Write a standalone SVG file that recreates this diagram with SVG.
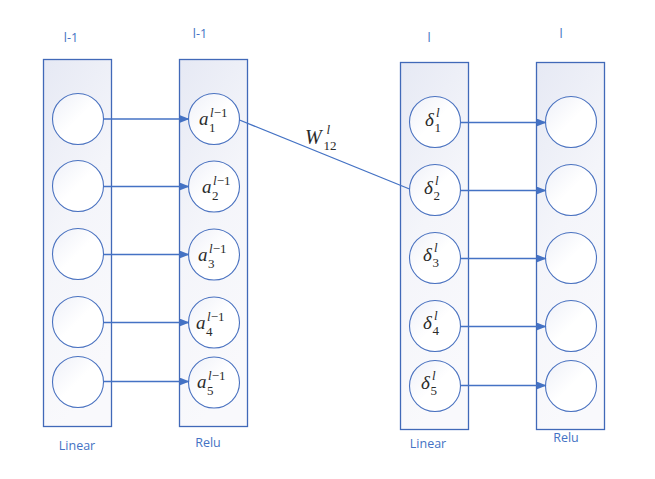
<svg xmlns="http://www.w3.org/2000/svg" width="655" height="479" viewBox="0 0 655 479">
<defs>
<linearGradient id="colg" x1="0" y1="0" x2="0.3" y2="1">
<stop offset="0" stop-color="#e6e9f4"/>
<stop offset="0.5" stop-color="#f4f5fa"/>
<stop offset="1" stop-color="#f9f9fc"/>
</linearGradient>
<linearGradient id="cirg" x1="0" y1="0" x2="1" y2="1">
<stop offset="0" stop-color="#eef0f8"/>
<stop offset="0.5" stop-color="#ffffff"/>
<stop offset="1" stop-color="#ffffff"/>
</linearGradient>
<marker id="arr" markerWidth="10" markerHeight="8" refX="9" refY="4" orient="auto" markerUnits="userSpaceOnUse">
<path d="M0,0 L10,4 L0,8 Z" fill="#4472C4"/>
</marker>
</defs>
<style>
.col{fill:url(#colg);stroke:#4169B8;stroke-width:1.3}
.cir{fill:url(#cirg);stroke:#4a72c0;stroke-width:1.1}
.lbl{font-family:"Open Sans","Liberation Sans",sans-serif;font-size:12.5px;fill:#4472C4}
.m{font-family:"Liberation Serif",serif;font-style:italic;fill:#2a2a2a}
.mn{font-family:"Liberation Serif",serif;font-style:normal;fill:#2a2a2a}
.con{stroke:#4472C4;stroke-width:1.3;fill:none}
</style>

<g id="layer1">
<rect class="col" x="43.5" y="59.5" width="68" height="367"/>
<circle class="cir" cx="78" cy="119" r="25.5"/>
<circle class="cir" cx="78" cy="186" r="25.5"/>
<circle class="cir" cx="78" cy="254" r="25.5"/>
<circle class="cir" cx="78" cy="322" r="25.5"/>
<circle class="cir" cx="78" cy="382" r="25.5"/>
<text class="lbl" x="71" y="42" text-anchor="middle">l-1</text>
<text class="lbl" x="77" y="450" text-anchor="middle">Linear</text>
</g>

<g id="layer2">
<rect class="col" x="179.5" y="59.5" width="68" height="367"/>
<circle class="cir" cx="214" cy="119" r="25.5"/>
<circle class="cir" cx="214" cy="186.5" r="25.5"/>
<circle class="cir" cx="214" cy="254.5" r="25.5"/>
<circle class="cir" cx="214" cy="322.5" r="25.5"/>
<circle class="cir" cx="214" cy="382.5" r="25.5"/>
<text class="lbl" x="200" y="38" text-anchor="middle">l-1</text>
<text class="lbl" x="208" y="447" text-anchor="middle">Relu</text>
<g>
<text class="m" x="199" y="125" font-size="19">a</text><text class="m" x="210" y="117" font-size="13">l<tspan class="mn">−1</tspan></text><text class="mn" x="209" y="132" font-size="13">1</text>
</g>
<g>
<text class="m" x="202" y="192.5" font-size="19">a</text><text class="m" x="213" y="184.5" font-size="13">l<tspan class="mn">−1</tspan></text><text class="mn" x="212" y="199.5" font-size="13">2</text>
</g>
<g>
<text class="m" x="198" y="260.5" font-size="19">a</text><text class="m" x="209" y="252.5" font-size="13">l<tspan class="mn">−1</tspan></text><text class="mn" x="208" y="267.5" font-size="13">3</text>
</g>
<g>
<text class="m" x="196" y="328.5" font-size="19">a</text><text class="m" x="207" y="320.5" font-size="13">l<tspan class="mn">−1</tspan></text><text class="mn" x="206" y="335.5" font-size="13">4</text>
</g>
<g>
<text class="m" x="197" y="387.5" font-size="19">a</text><text class="m" x="208" y="379.5" font-size="13">l<tspan class="mn">−1</tspan></text><text class="mn" x="207" y="394.5" font-size="13">5</text>
</g>
</g>

<g id="layer3">
<rect class="col" x="400.5" y="62.5" width="68" height="367"/>
<circle class="cir" cx="435" cy="122" r="25.5"/>
<circle class="cir" cx="435" cy="190" r="25.5"/>
<circle class="cir" cx="435" cy="258" r="25.5"/>
<circle class="cir" cx="435" cy="326" r="25.5"/>
<circle class="cir" cx="435" cy="386" r="25.5"/>
<text class="lbl" x="429" y="42" text-anchor="middle">l</text>
<text class="lbl" x="428" y="448" text-anchor="middle">Linear</text>
<g><text class="m" x="425" y="125.5" font-size="19">δ</text><text class="m" x="436" y="117" font-size="13">l</text><text class="mn" x="434.5" y="132" font-size="13">1</text></g>
<g><text class="m" x="424" y="193.5" font-size="19">δ</text><text class="m" x="435" y="185" font-size="13">l</text><text class="mn" x="433.5" y="200" font-size="13">2</text></g>
<g><text class="m" x="423" y="260.5" font-size="19">δ</text><text class="m" x="434" y="252" font-size="13">l</text><text class="mn" x="432.5" y="267" font-size="13">3</text></g>
<g><text class="m" x="423" y="328.5" font-size="19">δ</text><text class="m" x="434" y="320" font-size="13">l</text><text class="mn" x="432.5" y="335" font-size="13">4</text></g>
<g><text class="m" x="421" y="388.5" font-size="19">δ</text><text class="m" x="432" y="380" font-size="13">l</text><text class="mn" x="430.5" y="395" font-size="13">5</text></g>
</g>

<g id="layer4">
<rect class="col" x="536.5" y="62.5" width="68" height="367"/>
<circle class="cir" cx="571" cy="122" r="25.5"/>
<circle class="cir" cx="571" cy="190" r="25.5"/>
<circle class="cir" cx="571" cy="258" r="25.5"/>
<circle class="cir" cx="571" cy="326" r="25.5"/>
<circle class="cir" cx="571" cy="386" r="25.5"/>
<text class="lbl" x="561" y="38" text-anchor="middle">l</text>
<text class="lbl" x="566" y="442" text-anchor="middle">Relu</text>
</g>

<g id="connectors">
<line class="con" x1="103.5" y1="119" x2="188.5" y2="119" marker-end="url(#arr)"/>
<line class="con" x1="103.5" y1="186.5" x2="188.5" y2="186.5" marker-end="url(#arr)"/>
<line class="con" x1="103.5" y1="254.5" x2="188.5" y2="254.5" marker-end="url(#arr)"/>
<line class="con" x1="103.5" y1="322.5" x2="188.5" y2="322.5" marker-end="url(#arr)"/>
<line class="con" x1="103.5" y1="381.5" x2="188.5" y2="381.5" marker-end="url(#arr)"/>
<line class="con" x1="239.5" y1="120" x2="409.5" y2="189"/>
<line class="con" x1="460.5" y1="122.5" x2="545.5" y2="122.5" marker-end="url(#arr)"/>
<line class="con" x1="460.5" y1="190.5" x2="545.5" y2="190.5" marker-end="url(#arr)"/>
<line class="con" x1="460.5" y1="258.5" x2="545.5" y2="258.5" marker-end="url(#arr)"/>
<line class="con" x1="460.5" y1="326.5" x2="545.5" y2="326.5" marker-end="url(#arr)"/>
<line class="con" x1="460.5" y1="385.5" x2="545.5" y2="385.5" marker-end="url(#arr)"/>
</g>

<g id="weight-label">
<text class="m" x="305" y="144" font-size="20">W</text>
<text class="m" x="326.5" y="134" font-size="13">l</text>
<text class="mn" x="323.5" y="150" font-size="13">12</text>
</g>
</svg>
